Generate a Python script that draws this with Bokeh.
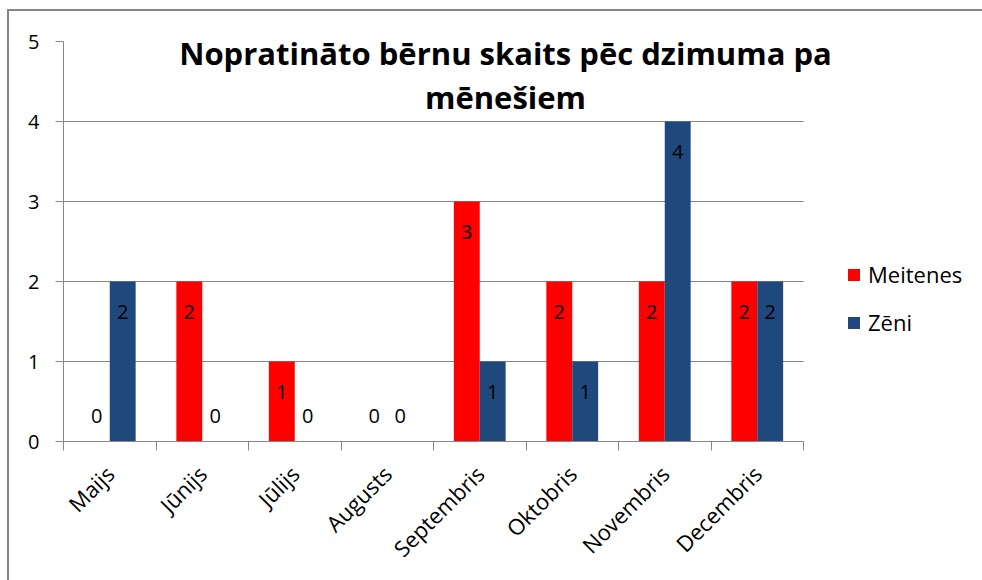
import numpy as np
from bokeh.plotting import figure
from bokeh.models import (ColumnDataSource, FixedTicker, Range1d, Label,
                          BoxAnnotation, Legend, LegendItem)
from bokeh.core.properties import value
from bokeh.embed import file_html
from bokeh.resources import INLINE

# ---- data ----
months = ["Maijs", "Jūnijs", "Jūlijs", "Augusts", "Septembris",
          "Oktobris", "Novembris", "Decembris"]
meitenes = [0, 2, 1, 0, 3, 2, 2, 2]
zeni = [2, 0, 0, 0, 1, 1, 4, 2]
series_names = ["Meitenes", "Zēni"]
y_ticks = [0, 1, 2, 3, 4, 5]
title_lines = ["Nopratināto bērnu skaits pēc dzimuma pa", "mēnešiem"]

RED = "#FF0000"
BLUE = "#1F497D"
GRAY = "#868686"
FONT = "Open Sans"

# layout (pixels)
FRAME_W = 919      # whole drawing area, incl. legend zone
PLOT_W = 740       # width occupied by the categories
n = len(months)
x_end = n * FRAME_W / PLOT_W

centers = np.arange(n) + 0.5
dodge = 0.14
bar_w = 0.28

def make_src(vals, shift):
    vals = np.array(vals)
    return ColumnDataSource(dict(
        x=centers + shift,
        top=vals,
        lab=[str(v) for v in vals],
        off=np.where(vals > 0, 30, -26),
    ))

src_m = make_src(meitenes, -dodge)
src_z = make_src(zeni, dodge)

p = figure(width=973, height=569, output_backend="svg", toolbar_location=None,
           x_range=Range1d(0, x_end), y_range=Range1d(0, 5),
           min_border_left=54, min_border_right=0, min_border_top=30,
           min_border_bottom=139)
p.frame_width = FRAME_W
p.frame_height = 400
p.outline_line_color = None
p.background_fill_color = "white"
p.border_fill_color = "white"
p.styles = {"border-left": "2px solid #868686", "border-top": "2px solid #868686",
            "margin-left": "7px", "margin-top": "9px"}

# grids
p.xgrid.visible = False
p.ygrid.ticker = FixedTicker(ticks=y_ticks)
p.ygrid.grid_line_color = GRAY
p.ygrid.grid_line_width = 1

# gridlines stop at the end of the category area
p.add_layout(BoxAnnotation(left=n, fill_color="white", fill_alpha=1.0,
                           line_color=None, level="underlay"))

# white box behind the title (covers gridlines)
p.add_layout(BoxAnnotation(left=110, right=780, top=405, bottom=321,
                           left_units="screen", right_units="screen",
                           top_units="screen", bottom_units="screen",
                           fill_color="white", fill_alpha=1.0, line_color=None,
                           level="underlay"))

# bars
rm = p.vbar(x="x", top="top", width=bar_w, source=src_m, fill_color=RED, line_color=None)
rz = p.vbar(x="x", top="top", width=bar_w, source=src_z, fill_color=BLUE, line_color=None)

for s in (src_m, src_z):
    p.text(x="x", y="top", text="lab", y_offset="off", source=s,
           text_align="center", text_baseline="middle",
           text_font=value(FONT), text_font_size="20px", text_color="black")

# axes
xa = p.xaxis[0]
xa.bounds = (0, n)
xa.ticker = FixedTicker(ticks=list(centers), minor_ticks=list(range(n + 1)))
xa.major_label_overrides = {float(c): m for c, m in zip(centers, months)}
xa.major_tick_out = 0
xa.major_tick_in = 0
xa.minor_tick_out = 9
xa.minor_tick_in = 0
xa.minor_tick_line_color = GRAY
xa.axis_line_color = GRAY
xa.major_label_orientation = np.pi / 4
xa.major_label_text_font = FONT
xa.major_label_text_font_size = "22px"
xa.major_label_text_color = "black"
xa.major_label_standoff = 19

ya = p.yaxis[0]
ya.ticker = FixedTicker(ticks=y_ticks)
ya.major_tick_out = 8
ya.major_tick_in = 0
ya.minor_tick_out = 0
ya.minor_tick_in = 0
ya.major_tick_line_color = GRAY
ya.axis_line_color = GRAY
ya.major_label_text_font = FONT
ya.major_label_text_font_size = "20px"
ya.major_label_text_color = "black"
ya.major_label_standoff = 16

# title
for txt, yy in zip(title_lines, [389, 345]):
    p.add_layout(Label(x=442, y=yy, x_units="screen", y_units="screen", text=txt,
                       text_align="center", text_baseline="middle",
                       text_font=FONT, text_font_style="bold",
                       text_font_size="31px", text_color="black"))

# legend
legend = Legend(items=[LegendItem(label=series_names[0], renderers=[rm]),
                       LegendItem(label=series_names[1], renderers=[rz])],
                location=(783, 104), orientation="vertical",
                glyph_width=15, glyph_height=15, label_height=24,
                label_standoff=7, spacing=18, padding=0, margin=0,
                label_text_font=FONT, label_text_font_size="22px",
                label_text_color="black",
                border_line_color=None, background_fill_alpha=0)
p.add_layout(legend)

open("out.html", "w").write(file_html(p, INLINE))
